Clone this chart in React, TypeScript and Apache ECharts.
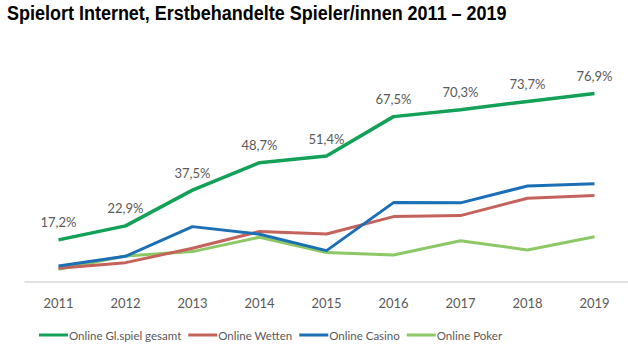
import React, { useEffect, useRef } from "react";
import * as echarts from "echarts";

const titleText = "Spielort Internet, Erstbehandelte Spieler/innen 2011 – 2019";
const years = ["2011", "2012", "2013", "2014", "2015", "2016", "2017", "2018", "2019"];
const gesamt = [17.2, 22.9, 37.5, 48.7, 51.4, 67.5, 70.3, 73.7, 76.9];
const wetten = [5.6, 7.9, 13.8, 20.6, 19.6, 26.7, 27.1, 34.2, 35.3];
const casino = [6.5, 10.5, 22.6, 19.5, 12.8, 32.4, 32.3, 39.2, 40.1];
const poker = [5.2, 10.6, 12.4, 18.3, 12.0, 11.0, 16.8, 13.1, 18.5];
const seriesNames = ["Online Gl.spiel gesamt", "Online Wetten", "Online Casino", "Online Poker"];
const colors = ["#12a157", "#c4625c", "#1a6fb5", "#8dc866"];

export default function App() {
  const ref = useRef<HTMLDivElement>(null);
  useEffect(() => {
    const chart = echarts.init(ref.current!, null, { renderer: "svg" });
    const fmt = (v: number) => v.toFixed(1).replace(".", ",") + "%";
    const mk = (name: string, data: number[], i: number, width: number, z: number, labels: boolean) => ({
      name,
      type: "line",
      data,
      symbol: "circle",
      symbolSize: 0,
      showSymbol: true,
      z,
      lineStyle: { color: colors[i], width },
      itemStyle: { color: colors[i] },
      label: labels
        ? {
            show: true,
            position: "top",
            distance: 11,
            color: "#595959",
            fontSize: 13,
            fontFamily: "Lato",
            formatter: (p: any) => fmt(p.value),
          }
        : { show: false },
    });
    chart.setOption({
      animation: false,
      backgroundColor: "#fff",
      graphic: [
        {
          type: "text",
          x: 7,
          y: 2,
          scaleY: 1.15,
          style: {
            text: titleText,
            font: 'bold 18px "Liberation Sans", Arial, sans-serif',
            fill: "#000",
            textVerticalAlign: "top",
          },
        },
      ],
      legend: {
        bottom: 11,
        left: 34,
        itemWidth: 29,
        itemHeight: 3,
        itemGap: 7,
        icon: "rect",
        textStyle: { color: "#595959", fontSize: 11.5, fontFamily: "Lato", padding: [0, 0, 0, -4] },
        data: seriesNames,
      },
      grid: { left: 25, right: 0, top: 86, bottom: 75 },
      xAxis: {
        type: "category",
        data: years,
        boundaryGap: true,
        axisLine: { lineStyle: { color: "#d9d9d9", width: 1.5 } },
        axisTick: { show: false },
        axisLabel: { color: "#595959", fontSize: 13, fontFamily: "Lato", margin: 14 },
      },
      yAxis: {
        type: "value",
        min: 0,
        max: 80,
        show: false,
        splitLine: { show: false },
      },
      series: [
        mk(seriesNames[0], gesamt, 0, 3.5, 5, true),
        mk(seriesNames[1], wetten, 1, 3, 3, false),
        mk(seriesNames[2], casino, 2, 3, 4, false),
        mk(seriesNames[3], poker, 3, 3, 2, false),
      ],
    });
    return () => chart.dispose();
  }, []);
  return <div ref={ref} style={{ width: 628, height: 357, position: "absolute", left: 0, top: 0 }} />;
}
